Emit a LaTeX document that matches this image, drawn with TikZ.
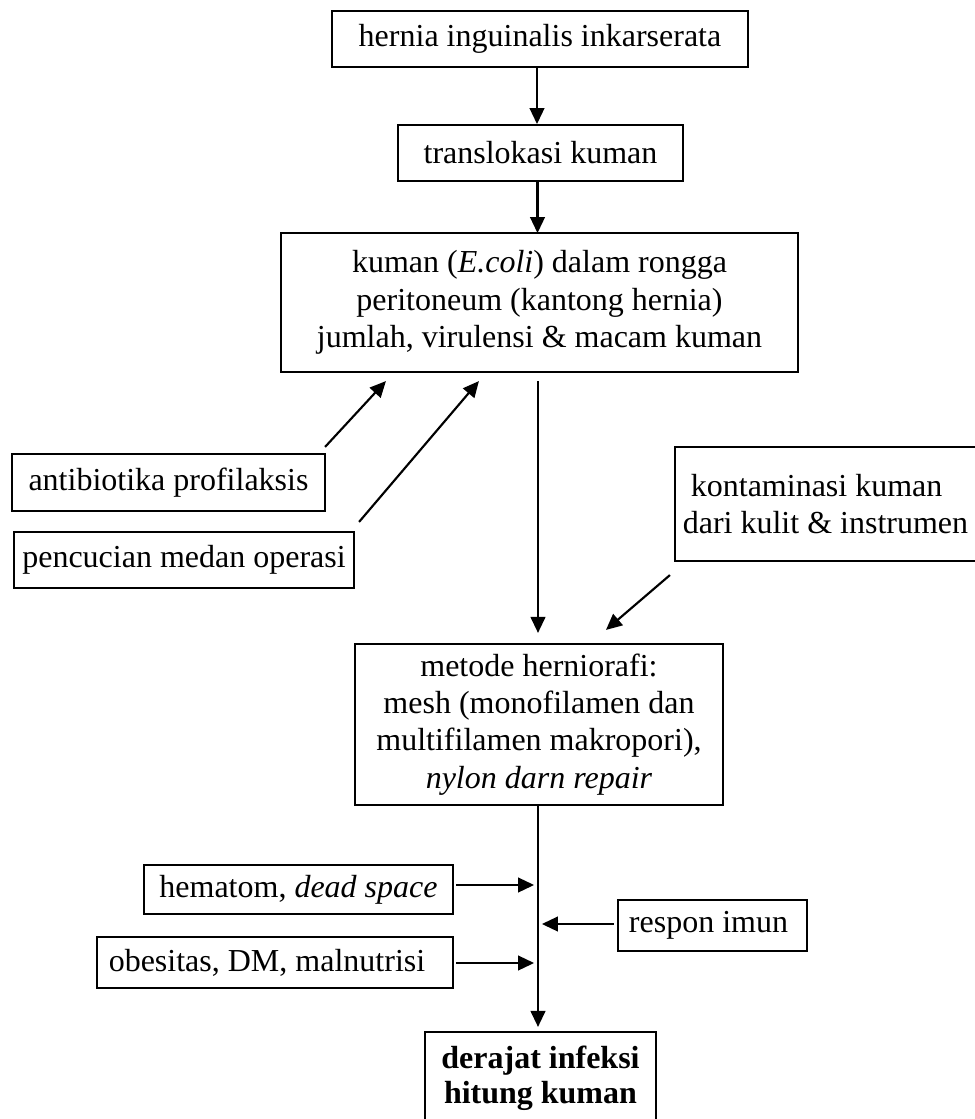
\documentclass[tikz,border=0pt]{standalone}
\usepackage{fontspec}
\setmainfont{Liberation Serif}
\usetikzlibrary{arrows.meta,calc}
\begin{document}
\begin{tikzpicture}[x=0.75pt,y=-0.75pt,
  box/.style={draw,line width=1.6pt,inner sep=0pt,align=center,font=\fontsize{24}{28}\selectfont},
  arr/.style={line width=1.6pt,-{Triangle[length=12pt,width=11pt]}}
]
\useasboundingbox (0,0) rectangle (974,1119);
\node[box,minimum width=416*0.75pt,minimum height=56*0.75pt] (n1) at (540,39) {hernia inguinalis inkarserata};
\node[box,minimum width=285*0.75pt,minimum height=56*0.75pt] (n2) at (540.5,153) {translokasi kuman};
\node[box,minimum width=517*0.75pt,minimum height=139*0.75pt] (n3) at (539.5,302.5) {kuman (\textit{E.coli}) dalam rongga\\peritoneum (kantong hernia)\\jumlah, virulensi \& macam kuman};
\node[box,minimum width=313*0.75pt,minimum height=57*0.75pt] (ab) at (168.5,482.5) {antibiotika profilaksis};
\node[box,minimum width=340*0.75pt,minimum height=56*0.75pt] (pc) at (184,560) {pencucian medan operasi};
\node[box,align=left,minimum width=301*0.75pt,minimum height=114*0.75pt] (ko) at (825.5,504) {\ kontaminasi kuman\\dari kulit \& instrumen};
\node[box,minimum width=368*0.75pt,minimum height=161*0.75pt] (n4) at (539,724.5) {metode herniorafi:\\mesh (monofilamen dan\\multifilamen makropori),\\\textit{nylon darn repair}};
\node[box,minimum width=309*0.75pt,minimum height=49*0.75pt] (he) at (298.5,889.5) {hematom, \textit{dead space}};
\node[box,minimum width=356*0.75pt,minimum height=51*0.75pt] (ob) at (275,962.5) {obesitas, DM, malnutrisi\ \ };
\node[box,minimum width=189*0.75pt,minimum height=51*0.75pt] (re) at (712.5,925.5) {respon imun\ };
\node[box,font=\fontsize{24}{26.5}\selectfont\bfseries,minimum width=231*0.75pt,minimum height=92*0.75pt] (n5) at (540.5,1078) {derajat infeksi\\hitung kuman};

\draw[arr] ($(n1.south)+(-3,0)$) -- ($(n1.south)+(-3,56)$);
\draw[arr] ($(n2.south)+(-3,0)$) -- ($(n2.south)+(-3,51)$);
\draw[arr] ($(n3.south)+(-1.5,8)$) -- ($(n4.north)+(-1,-10)$);
\draw[arr] ($(ab.north east)+(-1,-6)$) -- ($(n3.south west)+(106,8)$);
\draw[arr] ($(pc.north east)+(4,-9)$) -- ($(n3.south west)+(199,8)$);
\draw[arr] ($(ko.south west)+(-4,13)$) -- ($(n4.north west)+(252,-13)$);
\draw[arr] ($(n4.south)+(-1,0)$) -- ($(n5.north)+(-2.5,-4)$);
\draw[arr] ($(he.east)+(2,-4.5)$) -- ($(he.east)+(80,-4.5)$);
\draw[arr] ($(ob.east)+(2,0.5)$) -- ($(ob.east)+(80,0.5)$);
\draw[arr] ($(re.west)+(-3,-1.5)$) -- ($(re.west)+(-75,-1.5)$);
\end{tikzpicture}
\end{document}
